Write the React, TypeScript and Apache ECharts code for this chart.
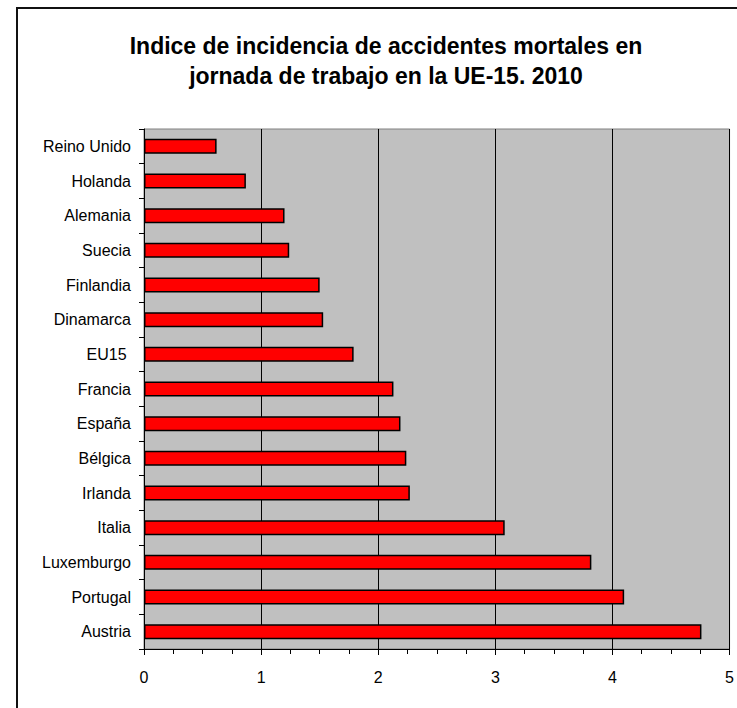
import React, { useEffect, useRef } from "react";
import * as echarts from "echarts";

const TITLE = "Indice de incidencia de accidentes mortales en\njornada de trabajo en la UE-15. 2010";

const categories = [
  "Reino Unido",
  "Holanda",
  "Alemania",
  "Suecia",
  "Finlandia",
  "Dinamarca",
  "EU15 ",
  "Francia",
  "España",
  "Bélgica",
  "Irlanda",
  "Italia",
  "Luxemburgo",
  "Portugal",
  "Austria",
];

const values = [0.62, 0.87, 1.2, 1.24, 1.5, 1.53, 1.79, 2.13, 2.19, 2.24, 2.27, 3.08, 3.82, 4.1, 4.76];

const xMin = 0;
const xMax = 5;
const xInterval = 1;

const FONT = 'Arial, "Liberation Sans", sans-serif';

export default function App() {
  const ref = useRef<HTMLDivElement>(null);

  useEffect(() => {
    if (!ref.current) return;
    const chart = echarts.init(ref.current, undefined, { renderer: "svg" });
    chart.setOption({
      animation: false,
      backgroundColor: "#ffffff",
      graphic: [
        {
          type: "rect",
          shape: { x: 17, y: 8, width: 800, height: 800 },
          style: { fill: "none", stroke: "#111", lineWidth: 2 },
          silent: true,
          z: 100,
        },
        {
          type: "text",
          x: 386,
          y: 61,
          style: {
            text: TITLE,
            fill: "#000",
            font: `bold 23px ${FONT}`,
            textAlign: "center",
            textVerticalAlign: "middle",
            lineHeight: 30,
          },
          silent: true,
        },
      ],
      grid: {
        left: 144,
        top: 129,
        right: 3,
        bottom: 59,
        show: true,
        backgroundColor: "#C0C0C0",
        borderColor: "#808080",
        borderWidth: 1,
        containLabel: false,
      },
      xAxis: {
        type: "value",
        min: xMin,
        max: xMax,
        interval: xInterval,
        axisLine: { show: true, lineStyle: { color: "#000", width: 1 } },
        axisTick: { show: true, length: 6, lineStyle: { color: "#000" } },
        minorTick: { show: true, splitNumber: 4, length: 5, lineStyle: { color: "#000" } },
        splitLine: { show: true, lineStyle: { color: "#000", width: 1 } },
        axisLabel: { color: "#000", fontSize: 16, fontFamily: FONT, margin: 20 },
      },
      yAxis: {
        type: "category",
        data: categories,
        inverse: true,
        axisLine: { show: true, lineStyle: { color: "#000", width: 1 } },
        axisTick: { show: true, length: 5, lineStyle: { color: "#000" } },
        axisLabel: { color: "#000", fontSize: 16, fontFamily: FONT, margin: 13 },
        splitLine: { show: false },
      },
      series: [
        {
          type: "bar",
          data: values,
          barWidth: 15,
          itemStyle: { color: "#FF0000", borderColor: "#000", borderWidth: 1.5 },
        },
      ],
    });
    return () => chart.dispose();
  }, []);

  return (
    <div
      ref={ref}
      style={{ position: "fixed", left: 0, top: 0, width: 737, height: 708, overflow: "hidden" }}
    />
  );
}
